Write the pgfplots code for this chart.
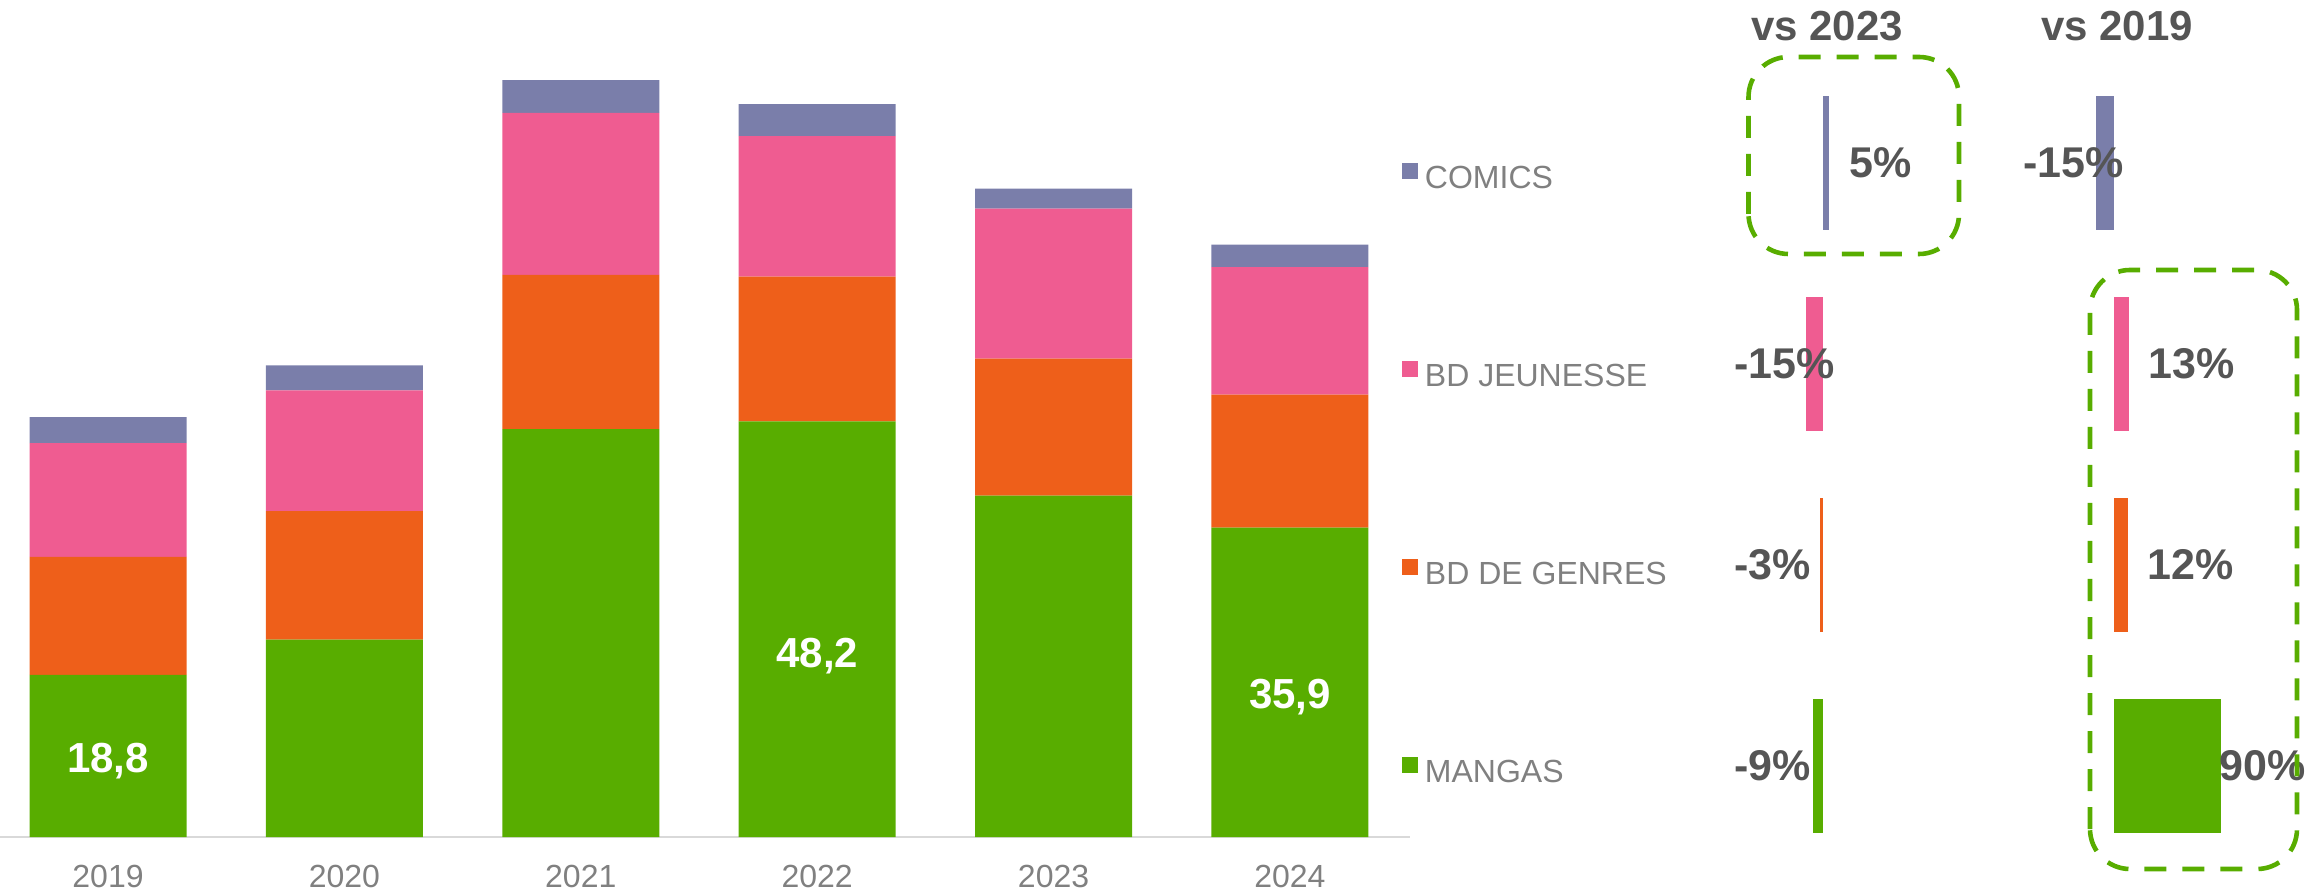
\documentclass[border=0pt]{standalone}
\usepackage{pgfplots}
\pgfplotsset{compat=1.18}
\usepackage{fontspec}
\setmainfont{Liberation Sans}
\definecolor{cComics}{RGB}{122,126,170}
\definecolor{cJeun}{RGB}{239,92,145}
\definecolor{cGenres}{RGB}{238,95,26}
\definecolor{cMangas}{RGB}{88,173,0}
\definecolor{tickgray}{RGB}{128,128,128}
\definecolor{pctgray}{RGB}{85,85,85}
\pgfplotsset{sqlegend/.style={legend image code/.code={\fill[##1] (0pt,1pt) rectangle (8pt,9pt);}}}
\begin{document}
\begin{tikzpicture}
\path[use as bounding box] (0,0) rectangle (1153.5pt,447.5pt);
\begin{axis}[
 at={(0pt,29pt)}, anchor=south west, scale only axis,
 width=705pt, height=409.5pt,
 xmin=-0.457, xmax=5.508, ymin=0, ymax=95,
 ybar stacked, bar width=78.5pt,
 axis x line=bottom, axis y line=none,
 x axis line style={-, draw=black!15, line width=1pt},
 xtick={0,1,2,3,4,5}, xticklabels={2019,2020,2021,2022,2023,2024},
 xtick style={draw=none}, ytick=\empty,
 /pgf/number format/assume math mode=true,
 xticklabel style={anchor=north, inner sep=0pt, yshift=-11.8pt, font=\fontsize{16}{19}\selectfont, text=tickgray},
 clip=false,
 reverse legend,
 legend style={at={(0.9943,0.823)}, anchor=north west, draw=none, fill=none, inner sep=0pt, outer sep=0pt, row sep=82pt, font=\fontsize{16}{19}\selectfont, text=tickgray, nodes={inner sep=0pt, text height=12pt, text depth=4pt}, /tikz/every odd column/.append style={column sep=3.5pt}, cells={anchor=west}},
]
\addplot[fill=cMangas, draw=none, sqlegend] coordinates {(0,18.8) (1,22.9) (2,47.3) (3,48.2) (4,39.6) (5,35.9)};
\addlegendentry{MANGAS}
\addplot[fill=cGenres, draw=none, sqlegend] coordinates {(0,13.7) (1,14.9) (2,17.9) (3,16.8) (4,15.9) (5,15.4)};
\addlegendentry{BD DE GENRES}
\addplot[fill=cJeun, draw=none, sqlegend] coordinates {(0,13.2) (1,14.0) (2,18.8) (3,16.3) (4,17.4) (5,14.8)};
\addlegendentry{BD JEUNESSE}
\addplot[fill=cComics, draw=none, sqlegend] coordinates {(0,3.0) (1,2.9) (2,3.8) (3,3.7) (4,2.3) (5,2.6)};
\addlegendentry{COMICS}
\coordinate (lA) at (axis cs:0,8.8);
\coordinate (lB) at (axis cs:3,21.0);
\coordinate (lC) at (axis cs:5,16.2);
\end{axis}
\begin{scope}[every node/.style={text=white, font=\bfseries\fontsize{21}{25}\selectfont, inner sep=0pt}]
\node at (lA) {18,8};
\node at (lB) {48,2};
\node at (lC) {35,9};
\end{scope}

% vs 2023
\begin{axis}[
 at={(899.8pt,14.25pt)}, anchor=south west, scale only axis,
 width=23.8pt, height=402pt,
 xmin=-20, xmax=20, ymin=-0.5, ymax=3.5, enlargelimits=false,
 hide axis, xbar, bar width=67pt, bar shift=0pt, clip=false,
]
\addplot[fill=cComics, draw=none] coordinates {(5,3)};
\addplot[fill=cJeun, draw=none] coordinates {(-15,2)};
\addplot[fill=cGenres, draw=none] coordinates {(-3,1)};
\addplot[fill=cMangas, draw=none] coordinates {(-9,0)};
\coordinate (a3) at (axis cs:5,3);
\coordinate (a2) at (axis cs:-75.1,2);
\coordinate (a1) at (axis cs:-75.1,1);
\coordinate (a0) at (axis cs:-75.1,0);
\end{axis}

% vs 2019
\begin{axis}[
 at={(1045.05pt,14.25pt)}, anchor=south west, scale only axis,
 width=71.4pt, height=402pt,
 xmin=-20, xmax=100, ymin=-0.5, ymax=3.5, enlargelimits=false,
 hide axis, xbar, bar width=67pt, bar shift=0pt, clip=false,
]
\addplot[fill=cComics, draw=none] coordinates {(-15,3)};
\addplot[fill=cJeun, draw=none] coordinates {(13,2)};
\addplot[fill=cGenres, draw=none] coordinates {(12,1)};
\addplot[fill=cMangas, draw=none] coordinates {(90,0)};
\coordinate (b3) at (axis cs:-76.4,3);
\coordinate (b2) at (axis cs:28.65,2);
\coordinate (b1) at (axis cs:27.8,1);
\coordinate (b0) at (axis cs:88.3,0);
\end{axis}

\begin{scope}[every node/.style={inner sep=0pt, text=pctgray, font=\bfseries\fontsize{21.5}{25}\selectfont}]
\node[anchor=west, xshift=10pt] at (a3) {5\%};
\node[anchor=west] at (a2) {-15\%};
\node[anchor=west] at (a1) {-3\%};
\node[anchor=west] at (a0) {-9\%};
\node[anchor=west] at (b3) {-15\%};
\node[anchor=west] at (b2) {13\%};
\node[anchor=west] at (b1) {12\%};
\node[anchor=west] at (b0) {90\%};
\end{scope}

\node[text=pctgray, font=\bfseries\fontsize{21}{25}\selectfont, inner sep=0pt] at (913.5pt,434.5pt) {vs 2023};
\node[text=pctgray, font=\bfseries\fontsize{21}{25}\selectfont, inner sep=0pt] at (1058.5pt,434.5pt) {vs 2019};
\draw[cMangas, line width=2.3pt, dash pattern=on 11pt off 8pt, rounded corners=20pt] (874.25pt,320.5pt) rectangle (979.5pt,419pt);
\draw[cMangas, line width=2.3pt, dash pattern=on 11pt off 8pt, rounded corners=20pt] (1045pt,13pt) rectangle (1148.5pt,312.5pt);
\end{tikzpicture}
\end{document}
